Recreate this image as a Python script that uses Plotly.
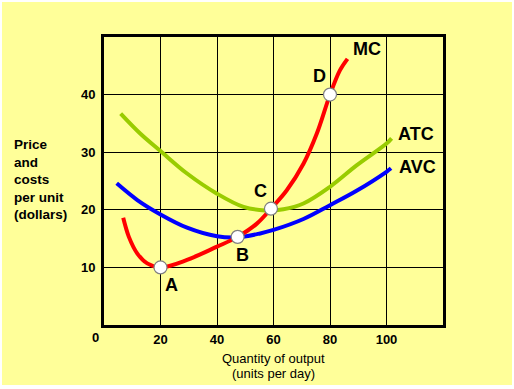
import plotly.graph_objects as go

# ---- data ----
mc_x = [6.8, 8.8, 11.8, 15.3, 20, 29.4, 40, 47.3, 54.1, 59.1, 64.7, 70.6, 75.3, 80, 83.5, 86.2]
mc_y = [18.6, 15.3, 12.4, 10.7, 10.0, 11.3, 13.6, 15.3, 17.6, 20.2, 23.4, 28.0, 33.2, 40.0, 44.2, 46.2]

atc_x = [5.9, 12.9, 20, 29.4, 40, 49.4, 57, 63.5, 70.6, 80, 89.4, 100, 101.8]
atc_y = [36.7, 33.2, 30.2, 26.3, 22.8, 20.5, 19.9, 20.1, 21.1, 24.0, 27.7, 31.5, 32.4]

avc_x = [4.5, 11.8, 20, 29.4, 40, 47, 55.3, 60, 70.6, 80, 89.4, 100, 101.6]
avc_y = [24.6, 21.7, 19.2, 16.9, 15.4, 15.2, 15.9, 16.5, 18.4, 20.8, 23.3, 26.6, 27.2]

pt_names = ["A", "B", "C", "D"]
pt_x = [20, 47.3, 59.1, 80]
pt_y = [10, 15.3, 20.2, 40]

x_ticks = [20, 40, 60, 80, 100]
y_ticks = [10, 20, 30, 40]

YELLOW = "#FFFF99"
FONT = "Arial, Liberation Sans, sans-serif"

fig = go.Figure()
fig.add_trace(go.Scatter(x=avc_x, y=avc_y, mode="lines",
                         line=dict(color="#0000FF", width=4, shape="spline"), hoverinfo="skip"))
fig.add_trace(go.Scatter(x=atc_x, y=atc_y, mode="lines",
                         line=dict(color="#99CC00", width=4, shape="spline"), hoverinfo="skip"))
fig.add_trace(go.Scatter(x=mc_x, y=mc_y, mode="lines",
                         line=dict(color="#FF0000", width=4, shape="spline"), hoverinfo="skip"))
fig.add_trace(go.Scatter(x=pt_x, y=pt_y, mode="markers", text=pt_names,
                         marker=dict(color="white", size=13, line=dict(color="#808080", width=1.2)),
                         hoverinfo="skip"))

bold18 = dict(family=FONT, size=18, color="black", weight="bold")
labels = [
    ("MC", 93.1, 47.9), ("ATC", 110.5, 33.1), ("AVC", 110.8, 27.4),
    ("D", 76.2, 43.2), ("C", 55.3, 23.2), ("B", 49.0, 12.1), ("A", 23.9, 7.0),
]
for t, x, y in labels:
    fig.add_annotation(x=x, y=y, text=t, showarrow=False, font=bold18,
                       xanchor="center", yanchor="middle")

# "0" origin label
fig.add_annotation(xref="paper", yref="paper", x=-0.0265, y=0, text="0", showarrow=False, yshift=-12,
                   font=dict(family=FONT, size=13, color="black", weight="bold"),
                   xanchor="center", yanchor="middle")

# Y title
fig.add_annotation(xref="paper", yref="paper", x=-0.271, y=0.505, xanchor="left", yanchor="middle",
                   text="Price<br>and<br>costs<br>per unit<br>(dollars)", align="left", showarrow=False,
                   font=dict(family=FONT, size=13.5, color="black", weight="bold"))
# X title (two lines, tight spacing)
fig.add_annotation(xref="paper", yref="paper", x=0.5, y=-0.118, xanchor="center", yanchor="middle",
                   text="Quantity of output", showarrow=False,
                   font=dict(family=FONT, size=13, color="black"))
fig.add_annotation(xref="paper", yref="paper", x=0.5, y=-0.167, xanchor="center", yanchor="middle",
                   text="(units per day)", showarrow=False,
                   font=dict(family=FONT, size=13, color="black"))

# yellow page with thin white edge
fig.add_shape(type="rect", xref="paper", yref="paper", layer="below",
              x0=-0.3009, x1=1.2035, y0=-0.2083, y1=1.1215,
              fillcolor=YELLOW, line=dict(width=0))

fig.update_xaxes(range=[0, 120], tickvals=x_ticks, ticktext=[str(v) for v in x_ticks],
                 showgrid=True, gridcolor="black", gridwidth=1,
                 showline=True, linecolor="black", linewidth=3, mirror=True,
                 zeroline=False, ticks="",
                 tickfont=dict(family=FONT, size=13, color="black", weight="bold"))
fig.update_yaxes(range=[0, 50], tickvals=y_ticks, ticktext=[str(v) for v in y_ticks],
                 showgrid=True, gridcolor="black", gridwidth=1,
                 showline=True, linecolor="black", linewidth=3, mirror=True,
                 zeroline=False, ticks="outside", ticklen=3, tickcolor=YELLOW,
                 tickfont=dict(family=FONT, size=13, color="black", weight="bold"))

fig.update_layout(width=514, height=389,
                  margin=dict(l=104, r=71, t=37, b=64),
                  paper_bgcolor="white", plot_bgcolor=YELLOW,
                  showlegend=False)

fig.write_html("out.html", config={"displayModeBar": False},
               post_script="document.body.style.margin='0';document.body.style.overflow='hidden';")
